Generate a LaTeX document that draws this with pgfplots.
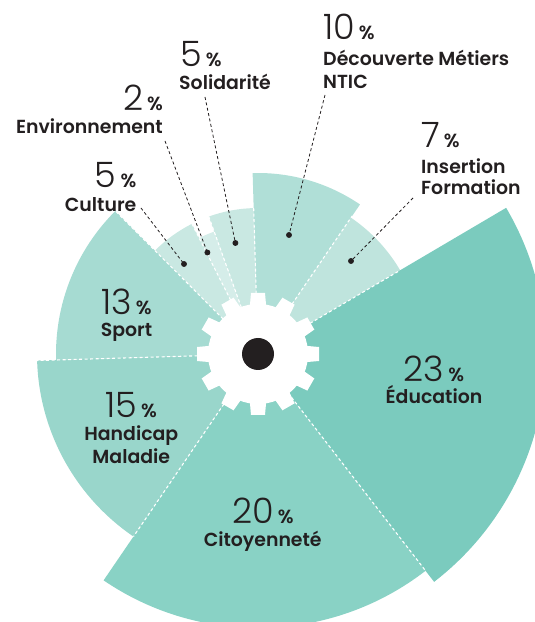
\documentclass[border=0pt]{standalone}
\usepackage{pgfplots}
\pgfplotsset{compat=1.18}
\usepackage{pgfplotstable}
\usepackage{fontspec}
\setmainfont{Poppins SemiBold}
\newfontfamily\numfont{Poppins Light}
\newfontfamily\pctfont{Poppins SemiBold}
\definecolor{txt}{HTML}{231F20}
\definecolor{cEdu}{HTML}{7BCBBE}
\definecolor{cCit}{HTML}{89D2C5}
\definecolor{cHan}{HTML}{99D6CB}
\definecolor{cSpo}{HTML}{A6DBD2}
\definecolor{cCul}{HTML}{C9E8E2}
\definecolor{cEnv}{HTML}{D5EDE9}
\definecolor{cSol}{HTML}{C9E8E2}
\definecolor{cDec}{HTML}{B0DFD7}
\definecolor{cIns}{HTML}{BFE4DD}

% sector: share (%), outer radius (px), length of dashed edge at its start, colour
\pgfplotstableread{
name pct r dash col
Insertion 7 165 165 cIns
Decouverte 10 181 167 cDec
Solidarite 5 146 146 cSol
Environnement 2 130 146 cEnv
Culture 5 146 146 cCul
Sport 13 202 202 cSpo
Handicap 15 221 221 cHan
Citoyennete 20 274 221 cCit
Education 23 288 274 cEdu
}\sectors

\newcommand\pc[1]{{\numfont\fontsize{35}{35}\selectfont #1}\hspace{4pt}{\pctfont\fontsize{19}{19}\selectfont\%}}
\newcommand\lab{\fontsize{18.9}{20}\selectfont}
\pgfplotsset{leader/.style={txt, line width=0.8pt, dash pattern=on 3pt off 2.5pt, mark=*, mark indices={2}, mark size=2.5pt, mark options={solid, fill=txt, draw=txt}}}

\begin{document}
\begin{tikzpicture}
\begin{axis}[hide axis, x=1pt, y=1pt, xmin=0, xmax=535, ymin=-622, ymax=0,
  clip=true, anchor=south west, at={(0,0)}]
\xdef\cum{30.5}
\pgfplotsinvokeforeach{0,...,8}{
  \pgfplotstablegetelem{#1}{pct}\of\sectors \let\pp\pgfplotsretval
  \pgfplotstablegetelem{#1}{r}\of\sectors \let\rr\pgfplotsretval
  \pgfplotstablegetelem{#1}{col}\of\sectors \let\cc\pgfplotsretval
  \pgfmathsetmacro\angA{\cum}
  \pgfmathsetmacro\angB{\cum+3.6*\pp}
  \xdef\cum{\angB}
  \edef\temp{\noexpand\fill[\cc] (axis cs:258,-354) -- ++(\angA:\rr pt) arc[start angle=\angA, end angle=\angB, radius=\rr pt] -- cycle;}
  \temp
}
\xdef\cum{30.5}
\pgfplotsinvokeforeach{0,...,8}{
  \pgfplotstablegetelem{#1}{pct}\of\sectors \let\pp\pgfplotsretval
  \pgfplotstablegetelem{#1}{dash}\of\sectors \let\dd\pgfplotsretval
  \pgfmathsetmacro\angA{\cum}
  \pgfmathsetmacro\angB{\cum+3.6*\pp}
  \xdef\cum{\angB}
  \edef\temp{\noexpand\draw[white, line width=1.1pt, dash pattern=on 3pt off 2.5pt] (axis cs:258,-354) -- ++(\angA:\dd pt);}
  \temp
}
% gear
\fill[white] (axis cs:258,-354) circle[radius=50pt];
\pgfplotsinvokeforeach{0,30,...,330}{
  \fill[white, shift={(axis cs:258,-354)}, rotate=#1] (44pt,-8.5pt) -- (61pt,-7pt) -- (61pt,7pt) -- (44pt,8.5pt) -- cycle;
}
\fill[txt] (axis cs:258,-354) circle[radius=16pt];

% leader lines
\addplot[leader] coordinates {(325,-95) (289,-235)};
\addplot[leader] coordinates {(413,-198) (351,-261)};
\addplot[leader] coordinates {(205,-97) (235.4,-243)};
\addplot[leader] coordinates {(165,-141) (207.4,-252.5)};
\addplot[leader] coordinates {(141,-208) (184,-264)};

% labels
\begin{scope}[every node/.style={inner sep=0pt, text=txt}]
\node[anchor=base west] at (axis cs:323,-40) {\pc{10}};
\node[anchor=base west] at (axis cs:323,-65.5) {\lab Découverte Métiers};
\node[anchor=base west] at (axis cs:323,-88.7) {\lab NTIC};
\node[anchor=base west] at (axis cs:421,-148) {\pc{7}};
\node[anchor=base west] at (axis cs:421,-173.3) {\lab Insertion};
\node[anchor=base west] at (axis cs:421,-195) {\lab Formation};
\node[anchor=base west] at (axis cs:180,-66.5) {\pc{5}};
\node[anchor=base west] at (axis cs:179,-89.4) {\lab Solidarité};
\node[anchor=base east] at (axis cs:163,-111) {\pc{2}};
\node[anchor=base east] at (axis cs:163,-134) {\lab Environnement};
\node[anchor=base east] at (axis cs:136.5,-187.6) {\pc{5}};
\node[anchor=base east] at (axis cs:136.5,-211.5) {\lab Culture};
\node[anchor=base] at (axis cs:126.3,-315) {\pc{13}};
\node[anchor=base] at (axis cs:126.5,-336.7) {\lab Sport};
\node[anchor=base] at (axis cs:131,-418) {\pc{15}};
\node[anchor=base] at (axis cs:131.3,-441) {\lab Handicap};
\node[anchor=base] at (axis cs:131.3,-464) {\lab Maladie};
\node[anchor=base] at (axis cs:434,-381.7) {\pc{23}};
\node[anchor=base] at (axis cs:434,-404) {\lab Éducation};
\node[anchor=base] at (axis cs:263,-523.5) {\pc{20}};
\node[anchor=base] at (axis cs:262.7,-547) {\lab Citoyenneté};
\end{scope}
\end{axis}
\pgfresetboundingbox
\useasboundingbox (current axis.south west) rectangle (current axis.north east);
\end{tikzpicture}
\end{document}
